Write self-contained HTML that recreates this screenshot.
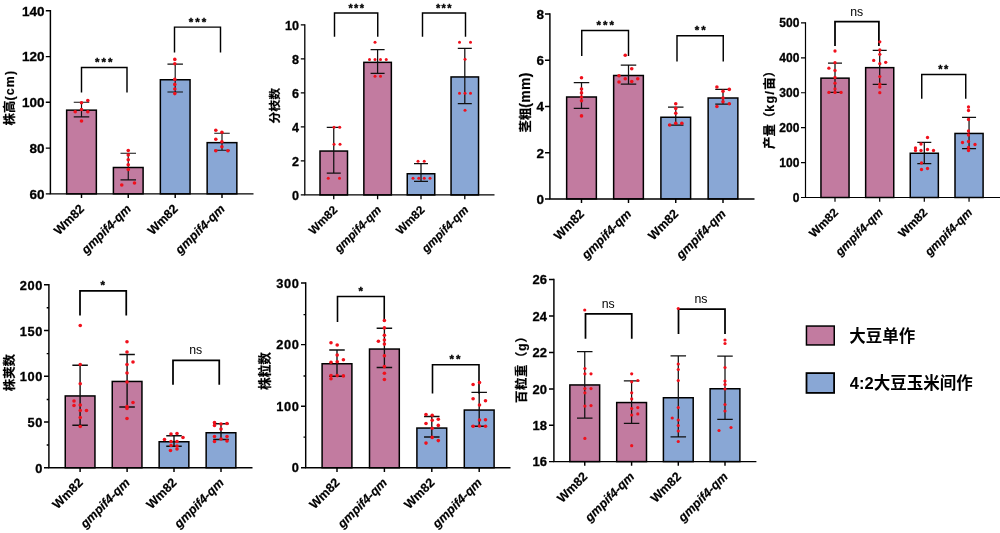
<!DOCTYPE html>
<html lang="zh"><head><meta charset="utf-8"><title>Figure</title>
<style>
html,body{margin:0;padding:0;background:#fff;}
body{width:1000px;height:533px;overflow:hidden;}
svg{display:block;}
text{font-family:"Liberation Sans", "Noto Sans CJK SC", sans-serif;fill:#000;}
.tk{font-size:12.5px;font-weight:bold;text-anchor:end;stroke:#000;stroke-width:0.3px;}
.xl{font-size:12.5px;font-weight:bold;text-anchor:end;stroke:#000;stroke-width:0.2px;}
.xi{font-size:12.5px;font-weight:bold;font-style:italic;text-anchor:end;stroke:#000;stroke-width:0.2px;}
.yt{font-size:12px;font-weight:bold;text-anchor:middle;stroke:#000;stroke-width:0.2px;}
.sg{font-size:12.3px;text-anchor:middle;}
.st{font-size:12.5px;font-weight:bold;text-anchor:middle;letter-spacing:1.5px;stroke:#000;stroke-width:0.35px;}
.lg{font-size:16.5px;font-weight:bold;}
.ax{stroke:#000;stroke-width:1.45;fill:none;}
.bk{stroke:#000;stroke-width:1.35;fill:none;}
.eb{stroke:#101010;stroke-width:1.35;fill:none;}
.bar{stroke:#000;stroke-width:1.5;}
.d{fill:#f0101c;}
</style></head><body>
<svg width="1000" height="533" viewBox="0 0 1000 533">
<rect x="0" y="0" width="1000" height="533" fill="#fff"/>
<g id="panel1">
<rect class="bar" x="66.65" y="110.15" width="29.7" height="83.7" fill="#c27ba0"/>
<rect class="bar" x="113.4" y="167.5" width="29.7" height="26.35" fill="#c27ba0"/>
<rect class="bar" x="160.35" y="79.75" width="29.7" height="114.1" fill="#89a7d5"/>
<rect class="bar" x="207.15" y="142.65" width="29.7" height="51.2" fill="#89a7d5"/>
<path class="eb" style="stroke-width:1.15" d="M81.5 102.2V116.8M73.75 102.2H89.25M73.75 116.8H89.25"/>
<path class="eb" style="stroke-width:1.15" d="M128.25 153.2V179.9M120.5 153.2H136M120.5 179.9H136"/>
<path class="eb" style="stroke-width:1.15" d="M175.2 64.2V92M167.45 64.2H182.95M167.45 92H182.95"/>
<path class="eb" style="stroke-width:1.15" d="M222 133.2V150.2M214.25 133.2H229.75M214.25 150.2H229.75"/>
<path class="ax" style="stroke-width:1.45" d="M50.4 10.08V193.85H253.5"/>
<path class="ax" style="stroke-width:1.45" d="M45.8 10.8H50.4M45.8 56.6H50.4M45.8 102.3H50.4M45.8 148.1H50.4M45.8 193.85H50.4M81.5 193.85V198.05M128.25 193.85V198.05M175.2 193.85V198.05M222 193.85V198.05"/>
<path class="bk" style="stroke-width:1.45" d="M81.5 92.5V67.4H127V92.5"/>
<text class="st" style="font-size:11.5px;letter-spacing:2px" x="104.8" y="66.22">***</text>
<path class="bk" style="stroke-width:1.45" d="M174.5 52.5V27.1H220.5V52.5"/>
<text class="st" style="font-size:11.5px;letter-spacing:2px" x="198.5" y="25.72">***</text>
<circle class="d" cx="87.8" cy="100.5" r="1.8"/>
<circle class="d" cx="81.5" cy="102.7" r="1.8"/>
<circle class="d" cx="81.5" cy="109.5" r="1.8"/>
<circle class="d" cx="75.2" cy="111.8" r="1.8"/>
<circle class="d" cx="87.8" cy="111.8" r="1.8"/>
<circle class="d" cx="81.5" cy="121" r="1.8"/>
<circle class="d" cx="128.25" cy="150.5" r="1.8"/>
<circle class="d" cx="128.25" cy="155" r="1.8"/>
<circle class="d" cx="128.25" cy="159.75" r="1.8"/>
<circle class="d" cx="128.25" cy="164.75" r="1.8"/>
<circle class="d" cx="128.25" cy="169.5" r="1.8"/>
<circle class="d" cx="121.75" cy="185" r="1.8"/>
<circle class="d" cx="134.5" cy="183" r="1.8"/>
<circle class="d" cx="174.8" cy="59.4" r="1.8"/>
<circle class="d" cx="174.8" cy="63.8" r="1.8"/>
<circle class="d" cx="174.8" cy="79.4" r="1.8"/>
<circle class="d" cx="174.8" cy="84.4" r="1.8"/>
<circle class="d" cx="174.8" cy="89" r="1.8"/>
<circle class="d" cx="174.8" cy="93.6" r="1.8"/>
<circle class="d" cx="215.8" cy="130.2" r="1.8"/>
<circle class="d" cx="221.9" cy="132.3" r="1.8"/>
<circle class="d" cx="215.8" cy="139.2" r="1.8"/>
<circle class="d" cx="221.9" cy="141.8" r="1.8"/>
<circle class="d" cx="221.9" cy="146.7" r="1.8"/>
<circle class="d" cx="215.8" cy="150.8" r="1.8"/>
<circle class="d" cx="227.9" cy="150.8" r="1.8"/>
<text class="tk" style="font-size:13.5px;letter-spacing:0px" x="44.5" y="15.63">140</text>
<text class="tk" style="font-size:13.5px;letter-spacing:0px" x="44.5" y="61.43">120</text>
<text class="tk" style="font-size:13.5px;letter-spacing:0px" x="44.5" y="107.13">100</text>
<text class="tk" style="font-size:13.5px;letter-spacing:0px" x="44.5" y="152.93">80</text>
<text class="tk" style="font-size:13.5px;letter-spacing:0px" x="44.5" y="198.68">60</text>
<text class="xl" style="font-size:12.5px" transform="translate(85 209.55) rotate(-45)">Wm82</text>
<text class="xi" style="font-size:12.5px" transform="translate(131.75 209.55) rotate(-45)">gmpif4-qm</text>
<text class="xl" style="font-size:12.5px" transform="translate(178.7 209.55) rotate(-45)">Wm82</text>
<text class="xi" style="font-size:12.5px" transform="translate(225.5 209.55) rotate(-45)">gmpif4-qm</text>
<text class="yt" style="font-size:12.4px;text-anchor:middle" transform="translate(14.46 97.5) rotate(-90)">株高<tspan style="letter-spacing:1.2px">(cm)</tspan></text>
</g>
<g id="panel2">
<rect class="bar" x="320" y="151.05" width="27.5" height="43.9" fill="#c27ba0"/>
<rect class="bar" x="363.85" y="62.35" width="27.5" height="132.6" fill="#c27ba0"/>
<rect class="bar" x="407.25" y="173.75" width="27.5" height="21.2" fill="#89a7d5"/>
<rect class="bar" x="451.05" y="76.95" width="27.5" height="118" fill="#89a7d5"/>
<path class="eb" style="stroke-width:1.25" d="M333.75 127.25V173M326.75 127.25H340.75M326.75 173H340.75"/>
<path class="eb" style="stroke-width:1.25" d="M377.6 49.5V73.25M370.6 49.5H384.6M370.6 73.25H384.6"/>
<path class="eb" style="stroke-width:1.25" d="M421 163.5V181.25M414 163.5H428M414 181.25H428"/>
<path class="eb" style="stroke-width:1.25" d="M464.8 48.25V103.5M457.8 48.25H471.8M457.8 103.5H471.8"/>
<path class="ax" style="stroke-width:1.3" d="M304.8 24.15V194.95H494.5"/>
<path class="ax" style="stroke-width:1.3" d="M300.8 24.8H304.8M300.8 58.9H304.8M300.8 92.9H304.8M300.8 126.9H304.8M300.8 160.9H304.8M300.8 194.95H304.8M333.75 194.95V199.15M377.6 194.95V199.15M421 194.95V199.15M464.8 194.95V199.15"/>
<path class="bk" style="stroke-width:1.45" d="M334.5 36.75V13H377.75V36.75"/>
<text class="st" style="font-size:11px;letter-spacing:1.4px" x="356.95" y="12.46">***</text>
<path class="bk" style="stroke-width:1.45" d="M422.5 36.75V13H465.5V36.75"/>
<text class="st" style="font-size:11px;letter-spacing:1.4px" x="444.45" y="12.46">***</text>
<circle class="d" cx="334" cy="127.25" r="1.5"/>
<circle class="d" cx="339.7" cy="127.25" r="1.5"/>
<circle class="d" cx="334" cy="144.25" r="1.5"/>
<circle class="d" cx="340" cy="144.25" r="1.5"/>
<circle class="d" cx="328.25" cy="178.25" r="1.5"/>
<circle class="d" cx="339.5" cy="178.25" r="1.5"/>
<circle class="d" cx="375" cy="42.25" r="1.5"/>
<circle class="d" cx="369.5" cy="59.5" r="1.5"/>
<circle class="d" cx="375" cy="59.5" r="1.5"/>
<circle class="d" cx="380.5" cy="59.5" r="1.5"/>
<circle class="d" cx="386.25" cy="59.5" r="1.5"/>
<circle class="d" cx="375" cy="76.25" r="1.5"/>
<circle class="d" cx="380.5" cy="76.25" r="1.5"/>
<circle class="d" cx="418" cy="161.25" r="1.5"/>
<circle class="d" cx="424.25" cy="161.25" r="1.5"/>
<circle class="d" cx="413" cy="178.25" r="1.5"/>
<circle class="d" cx="418.75" cy="178.25" r="1.5"/>
<circle class="d" cx="424.25" cy="178.25" r="1.5"/>
<circle class="d" cx="430" cy="178.25" r="1.5"/>
<circle class="d" cx="459.5" cy="42.25" r="1.5"/>
<circle class="d" cx="470.5" cy="42.25" r="1.5"/>
<circle class="d" cx="465" cy="59.25" r="1.5"/>
<circle class="d" cx="459.5" cy="93.25" r="1.5"/>
<circle class="d" cx="465" cy="93.25" r="1.5"/>
<circle class="d" cx="470.5" cy="93.25" r="1.5"/>
<circle class="d" cx="465" cy="110.25" r="1.5"/>
<text class="tk" style="font-size:12.6px;letter-spacing:0px" x="299" y="29.91">10</text>
<text class="tk" style="font-size:12.6px;letter-spacing:0px" x="299" y="64.01">8</text>
<text class="tk" style="font-size:12.6px;letter-spacing:0px" x="299" y="98.01">6</text>
<text class="tk" style="font-size:12.6px;letter-spacing:0px" x="299" y="132.01">4</text>
<text class="tk" style="font-size:12.6px;letter-spacing:0px" x="299" y="166.01">2</text>
<text class="tk" style="font-size:12.6px;letter-spacing:0px" x="299" y="200.06">0</text>
<text class="xl" style="font-size:11.8px" transform="translate(338.05 210.65) rotate(-45)">Wm82</text>
<text class="xi" style="font-size:11.8px" transform="translate(381.9 210.65) rotate(-45)">gmpif4-qm</text>
<text class="xl" style="font-size:11.8px" transform="translate(425.3 210.65) rotate(-45)">Wm82</text>
<text class="xi" style="font-size:11.8px" transform="translate(469.1 210.65) rotate(-45)">gmpif4-qm</text>
<text class="yt" style="font-size:11.8px;text-anchor:middle" transform="translate(279.15 105.7) rotate(-90)">分枝数</text>
</g>
<g id="panel3">
<rect class="bar" x="566.65" y="97" width="29.7" height="101.9" fill="#c27ba0"/>
<rect class="bar" x="613.65" y="75.5" width="29.7" height="123.4" fill="#c27ba0"/>
<rect class="bar" x="660.9" y="117.25" width="29.7" height="81.65" fill="#89a7d5"/>
<rect class="bar" x="708.15" y="98" width="29.7" height="100.9" fill="#89a7d5"/>
<path class="eb" style="stroke-width:1.25" d="M581.5 82.5V108.25M573.75 82.5H589.25M573.75 108.25H589.25"/>
<path class="eb" style="stroke-width:1.25" d="M628.5 65V84M620.75 65H636.25M620.75 84H636.25"/>
<path class="eb" style="stroke-width:1.25" d="M675.75 107V125M668 107H683.5M668 125H683.5"/>
<path class="eb" style="stroke-width:1.25" d="M723 89.25V104M715.25 89.25H730.75M715.25 104H730.75"/>
<path class="ax" style="stroke-width:1.45" d="M549.9 13.28V198.9H754.5"/>
<path class="ax" style="stroke-width:1.45" d="M545 14H549.9M545 60.3H549.9M545 106.5H549.9M545 152.7H549.9M545 198.9H549.9M581.5 198.9V203.1M628.5 198.9V203.1M675.75 198.9V203.1M723 198.9V203.1"/>
<path class="bk" style="stroke-width:1.45" d="M581.75 56V30.5H628.5V56"/>
<text class="st" style="font-size:11.5px;letter-spacing:2px" x="606.25" y="29.47">***</text>
<path class="bk" style="stroke-width:1.45" d="M677 61.6V35.75H723.25V61.6"/>
<text class="st" style="font-size:11.5px;letter-spacing:2px" x="701.25" y="34.47">**</text>
<circle class="d" cx="581.5" cy="77.8" r="1.8"/>
<circle class="d" cx="581.5" cy="89" r="1.8"/>
<circle class="d" cx="581.5" cy="92.9" r="1.8"/>
<circle class="d" cx="581.5" cy="97" r="1.8"/>
<circle class="d" cx="581.5" cy="100.8" r="1.8"/>
<circle class="d" cx="581.5" cy="115.9" r="1.8"/>
<circle class="d" cx="625.25" cy="55.25" r="1.8"/>
<circle class="d" cx="631.75" cy="68.75" r="1.8"/>
<circle class="d" cx="619" cy="75.75" r="1.8"/>
<circle class="d" cx="625.25" cy="78.75" r="1.8"/>
<circle class="d" cx="637.75" cy="78.75" r="1.8"/>
<circle class="d" cx="619" cy="82" r="1.8"/>
<circle class="d" cx="631.75" cy="81.5" r="1.8"/>
<circle class="d" cx="675.75" cy="103.7" r="1.8"/>
<circle class="d" cx="675.75" cy="108.4" r="1.8"/>
<circle class="d" cx="675.75" cy="113.2" r="1.8"/>
<circle class="d" cx="669.7" cy="125" r="1.8"/>
<circle class="d" cx="675.75" cy="123.3" r="1.8"/>
<circle class="d" cx="681.85" cy="123.3" r="1.8"/>
<circle class="d" cx="716.9" cy="87" r="1.8"/>
<circle class="d" cx="723" cy="91.3" r="1.8"/>
<circle class="d" cx="729.3" cy="89.4" r="1.8"/>
<circle class="d" cx="723" cy="98" r="1.8"/>
<circle class="d" cx="723" cy="101.8" r="1.8"/>
<circle class="d" cx="729.3" cy="103.7" r="1.8"/>
<circle class="d" cx="716.9" cy="106.5" r="1.8"/>
<text class="tk" style="font-size:13.5px;letter-spacing:0px" x="544" y="18.83">8</text>
<text class="tk" style="font-size:13.5px;letter-spacing:0px" x="544" y="65.13">6</text>
<text class="tk" style="font-size:13.5px;letter-spacing:0px" x="544" y="111.33">4</text>
<text class="tk" style="font-size:13.5px;letter-spacing:0px" x="544" y="157.53">2</text>
<text class="tk" style="font-size:13.5px;letter-spacing:0px" x="544" y="203.73">0</text>
<text class="xl" style="font-size:12.5px" transform="translate(585 214.6) rotate(-45)">Wm82</text>
<text class="xi" style="font-size:12.5px" transform="translate(632 214.6) rotate(-45)">gmpif4-qm</text>
<text class="xl" style="font-size:12.5px" transform="translate(679.25 214.6) rotate(-45)">Wm82</text>
<text class="xi" style="font-size:12.5px" transform="translate(726.5 214.6) rotate(-45)">gmpif4-qm</text>
<text class="yt" style="font-size:12.4px;text-anchor:middle" transform="translate(529.66 102.4) rotate(-90)">茎粗<tspan style="font-size:14px;letter-spacing:0.3px">(mm)</tspan></text>
</g>
<g id="panel4">
<rect class="bar" x="820.95" y="78.15" width="28.1" height="119.35" fill="#c27ba0"/>
<rect class="bar" x="865.65" y="67.65" width="28.1" height="129.85" fill="#c27ba0"/>
<rect class="bar" x="910.25" y="153.25" width="28.1" height="44.25" fill="#89a7d5"/>
<rect class="bar" x="955" y="133.45" width="28.1" height="64.05" fill="#89a7d5"/>
<path class="eb" style="stroke-width:1.25" d="M835 63V92.4M828 63H842M828 92.4H842"/>
<path class="eb" style="stroke-width:1.25" d="M879.7 50.3V84.3M872.7 50.3H886.7M872.7 84.3H886.7"/>
<path class="eb" style="stroke-width:1.25" d="M924.3 142.25V163.5M917.3 142.25H931.3M917.3 163.5H931.3"/>
<path class="eb" style="stroke-width:1.25" d="M969.05 117.4V148.5M962.05 117.4H976.05M962.05 148.5H976.05"/>
<path class="ax" style="stroke-width:1.2" d="M805.5 22.3V197.5H1000"/>
<path class="ax" style="stroke-width:1.2" d="M801 22.9H805.5M801 57.8H805.5M801 92.75H805.5M801 127.7H805.5M801 162.6H805.5M801 197.5H805.5M835 197.5V201.7M879.7 197.5V201.7M924.3 197.5V201.7M969.05 197.5V201.7"/>
<path class="bk" style="stroke-width:1.75" d="M835 46V21.5H878.9V46"/>
<text class="sg" x="856.75" y="15.6">ns</text>
<path class="bk" style="stroke-width:1.45" d="M921.75 98.75V74.5H965.75V98.75"/>
<text class="st" style="font-size:11px;letter-spacing:1.4px" x="943.95" y="73.46">**</text>
<circle class="d" cx="835" cy="51" r="1.65"/>
<circle class="d" cx="835" cy="62.7" r="1.65"/>
<circle class="d" cx="828.9" cy="68.2" r="1.65"/>
<circle class="d" cx="835" cy="70.5" r="1.65"/>
<circle class="d" cx="835" cy="77.5" r="1.65"/>
<circle class="d" cx="835" cy="83.2" r="1.65"/>
<circle class="d" cx="835" cy="88.9" r="1.65"/>
<circle class="d" cx="828.9" cy="92.4" r="1.65"/>
<circle class="d" cx="835" cy="92.4" r="1.65"/>
<circle class="d" cx="841.1" cy="92.4" r="1.65"/>
<circle class="d" cx="879.8" cy="41.8" r="1.65"/>
<circle class="d" cx="879.8" cy="50" r="1.65"/>
<circle class="d" cx="879.8" cy="54.3" r="1.65"/>
<circle class="d" cx="873.7" cy="60.4" r="1.65"/>
<circle class="d" cx="885.7" cy="62.3" r="1.65"/>
<circle class="d" cx="879.8" cy="63.7" r="1.65"/>
<circle class="d" cx="879.8" cy="76.6" r="1.65"/>
<circle class="d" cx="879.8" cy="84.2" r="1.65"/>
<circle class="d" cx="879.8" cy="87" r="1.65"/>
<circle class="d" cx="879.8" cy="92.7" r="1.65"/>
<circle class="d" cx="927.5" cy="137.5" r="1.65"/>
<circle class="d" cx="921" cy="144" r="1.65"/>
<circle class="d" cx="915.5" cy="148" r="1.65"/>
<circle class="d" cx="915.5" cy="150.5" r="1.65"/>
<circle class="d" cx="921" cy="150.5" r="1.65"/>
<circle class="d" cx="927.5" cy="149.5" r="1.65"/>
<circle class="d" cx="933.5" cy="150.5" r="1.65"/>
<circle class="d" cx="921.5" cy="163" r="1.65"/>
<circle class="d" cx="921.5" cy="169.5" r="1.65"/>
<circle class="d" cx="927.5" cy="168.5" r="1.65"/>
<circle class="d" cx="968.5" cy="107" r="1.65"/>
<circle class="d" cx="968.5" cy="110.5" r="1.65"/>
<circle class="d" cx="968.5" cy="119.5" r="1.65"/>
<circle class="d" cx="968.5" cy="131" r="1.65"/>
<circle class="d" cx="968.5" cy="135" r="1.65"/>
<circle class="d" cx="962.5" cy="142.5" r="1.65"/>
<circle class="d" cx="968.5" cy="141.5" r="1.65"/>
<circle class="d" cx="975" cy="144.5" r="1.65"/>
<circle class="d" cx="968.5" cy="147.5" r="1.65"/>
<circle class="d" cx="968.5" cy="150.5" r="1.65"/>
<text class="tk" style="font-size:12px;letter-spacing:0px" x="799.4" y="27.2">500</text>
<text class="tk" style="font-size:12px;letter-spacing:0px" x="799.4" y="62.1">400</text>
<text class="tk" style="font-size:12px;letter-spacing:0px" x="799.4" y="97.05">300</text>
<text class="tk" style="font-size:12px;letter-spacing:0px" x="799.4" y="132">200</text>
<text class="tk" style="font-size:12px;letter-spacing:0px" x="799.4" y="166.9">100</text>
<text class="tk" style="font-size:12px;letter-spacing:0px" x="799.4" y="201.8">0</text>
<text class="xl" style="font-size:12px" transform="translate(839 213.2) rotate(-45)">Wm82</text>
<text class="xi" style="font-size:12px" transform="translate(883.7 213.2) rotate(-45)">gmpif4-qm</text>
<text class="xl" style="font-size:12px" transform="translate(928.3 213.2) rotate(-45)">Wm82</text>
<text class="xi" style="font-size:12px" transform="translate(973.05 213.2) rotate(-45)">gmpif4-qm</text>
<text class="yt" style="font-size:12.4px;text-anchor:start" transform="translate(774.06 149) rotate(-90)">产量（<tspan style="letter-spacing:1.4px">kg/</tspan>亩）</text>
</g>
<g id="panel5">
<rect class="bar" x="65.25" y="395.95" width="29.7" height="71.8" fill="#c27ba0"/>
<rect class="bar" x="112.25" y="381.45" width="29.7" height="86.3" fill="#c27ba0"/>
<rect class="bar" x="159.15" y="441.75" width="29.7" height="26" fill="#89a7d5"/>
<rect class="bar" x="206.15" y="432.75" width="29.7" height="35" fill="#89a7d5"/>
<path class="eb" style="stroke-width:1.4" d="M80.1 365.25V425.25M72.35 365.25H87.85M72.35 425.25H87.85"/>
<path class="eb" style="stroke-width:1.4" d="M127.1 354.5V407M119.35 354.5H134.85M119.35 407H134.85"/>
<path class="eb" style="stroke-width:1.4" d="M174 435.75V446.25M166.25 435.75H181.75M166.25 446.25H181.75"/>
<path class="eb" style="stroke-width:1.4" d="M221 423.75V439.5M213.25 423.75H228.75M213.25 439.5H228.75"/>
<path class="ax" style="stroke-width:1.45" d="M48.9 284.07V467.75H252.5"/>
<path class="ax" style="stroke-width:1.45" d="M44 284.8H48.9M44 330.55H48.9M44 376.3H48.9M44 422.05H48.9M44 467.75H48.9M46.7 307.8H48.9M46.7 353.6H48.9M46.7 399.5H48.9M46.7 445H48.9M80.1 467.75V471.95M127.1 467.75V471.95M174 467.75V471.95M221 467.75V471.95"/>
<path class="bk" style="stroke-width:1.75" d="M80 315.6V290.75H126.25V315.6"/>
<text class="st" style="font-size:11.5px;letter-spacing:2px" x="103.75" y="289.02">*</text>
<path class="bk" style="stroke-width:1.75" d="M173 384.75V360.25H219.25V384.75"/>
<text class="sg" x="195.75" y="353.85">ns</text>
<circle class="d" cx="80.25" cy="325.5" r="1.8"/>
<circle class="d" cx="80.25" cy="364.5" r="1.8"/>
<circle class="d" cx="80.25" cy="383.75" r="1.8"/>
<circle class="d" cx="74" cy="401" r="1.8"/>
<circle class="d" cx="74" cy="405.5" r="1.8"/>
<circle class="d" cx="80.25" cy="405" r="1.8"/>
<circle class="d" cx="80.25" cy="410.5" r="1.8"/>
<circle class="d" cx="86.5" cy="410.5" r="1.8"/>
<circle class="d" cx="80.25" cy="417.5" r="1.8"/>
<circle class="d" cx="80.25" cy="426.5" r="1.8"/>
<circle class="d" cx="127" cy="341.75" r="1.8"/>
<circle class="d" cx="127" cy="352" r="1.8"/>
<circle class="d" cx="133" cy="362" r="1.8"/>
<circle class="d" cx="127" cy="364.5" r="1.8"/>
<circle class="d" cx="127" cy="373" r="1.8"/>
<circle class="d" cx="127" cy="382" r="1.8"/>
<circle class="d" cx="133" cy="402.5" r="1.8"/>
<circle class="d" cx="127" cy="406.5" r="1.8"/>
<circle class="d" cx="127" cy="408.5" r="1.8"/>
<circle class="d" cx="127" cy="418.5" r="1.8"/>
<circle class="d" cx="171" cy="434" r="1.8"/>
<circle class="d" cx="177" cy="433.5" r="1.8"/>
<circle class="d" cx="164.5" cy="439.5" r="1.8"/>
<circle class="d" cx="183" cy="437.5" r="1.8"/>
<circle class="d" cx="171" cy="441.5" r="1.8"/>
<circle class="d" cx="177" cy="441.5" r="1.8"/>
<circle class="d" cx="171" cy="445.5" r="1.8"/>
<circle class="d" cx="177" cy="446" r="1.8"/>
<circle class="d" cx="170.5" cy="450.5" r="1.8"/>
<circle class="d" cx="177" cy="449" r="1.8"/>
<circle class="d" cx="214.5" cy="422.5" r="1.8"/>
<circle class="d" cx="214.5" cy="425.5" r="1.8"/>
<circle class="d" cx="221" cy="424" r="1.8"/>
<circle class="d" cx="227" cy="423.5" r="1.8"/>
<circle class="d" cx="221" cy="429" r="1.8"/>
<circle class="d" cx="214.5" cy="436.5" r="1.8"/>
<circle class="d" cx="227" cy="436.5" r="1.8"/>
<circle class="d" cx="214.5" cy="441.5" r="1.8"/>
<circle class="d" cx="221" cy="439" r="1.8"/>
<circle class="d" cx="227" cy="441" r="1.8"/>
<text class="tk" style="font-size:12.8px;letter-spacing:0.7px" x="43.1" y="289.98">200</text>
<text class="tk" style="font-size:12.8px;letter-spacing:0.7px" x="43.1" y="335.73">150</text>
<text class="tk" style="font-size:12.8px;letter-spacing:0.7px" x="43.1" y="381.48">100</text>
<text class="tk" style="font-size:12.8px;letter-spacing:0.7px" x="43.1" y="427.23">50</text>
<text class="tk" style="font-size:12.8px;letter-spacing:0.7px" x="43.1" y="472.93">0</text>
<text class="xl" style="font-size:12.5px" transform="translate(83.6 483.45) rotate(-45)">Wm82</text>
<text class="xi" style="font-size:12.5px" transform="translate(130.6 483.45) rotate(-45)">gmpif4-qm</text>
<text class="xl" style="font-size:12.5px" transform="translate(177.5 483.45) rotate(-45)">Wm82</text>
<text class="xi" style="font-size:12.5px" transform="translate(224.5 483.45) rotate(-45)">gmpif4-qm</text>
<text class="yt" style="font-size:12.4px;text-anchor:middle" transform="translate(13.76 372.6) rotate(-90)">株荚数</text>
</g>
<g id="panel6">
<rect class="bar" x="322.1" y="363.75" width="29.8" height="104" fill="#c27ba0"/>
<rect class="bar" x="369.5" y="349.05" width="29.8" height="118.7" fill="#c27ba0"/>
<rect class="bar" x="416.9" y="428.05" width="29.8" height="39.7" fill="#89a7d5"/>
<rect class="bar" x="464.3" y="410.05" width="29.8" height="57.7" fill="#89a7d5"/>
<path class="eb" style="stroke-width:1.35" d="M337 350V376.25M329.25 350H344.75M329.25 376.25H344.75"/>
<path class="eb" style="stroke-width:1.35" d="M384.4 328.25V367.5M376.65 328.25H392.15M376.65 367.5H392.15"/>
<path class="eb" style="stroke-width:1.35" d="M431.8 416.5V437M424.05 416.5H439.55M424.05 437H439.55"/>
<path class="eb" style="stroke-width:1.35" d="M479.2 392.3V426.25M471.45 392.3H486.95M471.45 426.25H486.95"/>
<path class="ax" style="stroke-width:1.45" d="M305.7 282.27V467.75H510.5"/>
<path class="ax" style="stroke-width:1.45" d="M301 283H305.7M301 344.6H305.7M301 406.2H305.7M301 467.75H305.7M303.5 314.6H305.7M303.5 375.9H305.7M303.5 437.1H305.7M337 467.75V471.95M384.4 467.75V471.95M431.8 467.75V471.95M479.2 467.75V471.95"/>
<path class="bk" style="stroke-width:1.6" d="M337.5 322V296.5H384.25V322"/>
<text class="st" style="font-size:11.5px;letter-spacing:2px" x="361.75" y="295.22">*</text>
<path class="bk" style="stroke-width:1.6" d="M432.5 393.5V364.7H479V393.5"/>
<text class="st" style="font-size:11.5px;letter-spacing:2px" x="456" y="363.22">**</text>
<circle class="d" cx="331" cy="342.7" r="1.8"/>
<circle class="d" cx="337.2" cy="345" r="1.8"/>
<circle class="d" cx="337.2" cy="355.1" r="1.8"/>
<circle class="d" cx="343.4" cy="359.8" r="1.8"/>
<circle class="d" cx="331" cy="362.2" r="1.8"/>
<circle class="d" cx="337.2" cy="361.8" r="1.8"/>
<circle class="d" cx="331" cy="375.6" r="1.8"/>
<circle class="d" cx="337.2" cy="375.6" r="1.8"/>
<circle class="d" cx="343.4" cy="375.9" r="1.8"/>
<circle class="d" cx="331" cy="378.8" r="1.8"/>
<circle class="d" cx="384.4" cy="320.5" r="1.8"/>
<circle class="d" cx="384.4" cy="327.9" r="1.8"/>
<circle class="d" cx="384.4" cy="335.2" r="1.8"/>
<circle class="d" cx="378.4" cy="341.2" r="1.8"/>
<circle class="d" cx="384.4" cy="340" r="1.8"/>
<circle class="d" cx="384.4" cy="344.1" r="1.8"/>
<circle class="d" cx="384.4" cy="355.7" r="1.8"/>
<circle class="d" cx="384.4" cy="366.6" r="1.8"/>
<circle class="d" cx="384.4" cy="373.2" r="1.8"/>
<circle class="d" cx="384.4" cy="379.5" r="1.8"/>
<circle class="d" cx="426" cy="414.5" r="1.8"/>
<circle class="d" cx="432.2" cy="415.3" r="1.8"/>
<circle class="d" cx="432.2" cy="420.2" r="1.8"/>
<circle class="d" cx="438.3" cy="419.3" r="1.8"/>
<circle class="d" cx="426" cy="423.5" r="1.8"/>
<circle class="d" cx="438.3" cy="425.4" r="1.8"/>
<circle class="d" cx="432.2" cy="428.2" r="1.8"/>
<circle class="d" cx="432.2" cy="437.4" r="1.8"/>
<circle class="d" cx="438.3" cy="440.6" r="1.8"/>
<circle class="d" cx="426" cy="443.1" r="1.8"/>
<circle class="d" cx="473.1" cy="384.5" r="1.8"/>
<circle class="d" cx="479.5" cy="382.6" r="1.8"/>
<circle class="d" cx="473.1" cy="398.8" r="1.8"/>
<circle class="d" cx="485.5" cy="400.7" r="1.8"/>
<circle class="d" cx="479.5" cy="405" r="1.8"/>
<circle class="d" cx="479.5" cy="420" r="1.8"/>
<circle class="d" cx="485.5" cy="419.7" r="1.8"/>
<circle class="d" cx="473.1" cy="426.3" r="1.8"/>
<circle class="d" cx="479.5" cy="426" r="1.8"/>
<circle class="d" cx="485.5" cy="426.3" r="1.8"/>
<text class="tk" style="font-size:12.8px;letter-spacing:0.7px" x="299.7" y="287.58">300</text>
<text class="tk" style="font-size:12.8px;letter-spacing:0.7px" x="299.7" y="349.18">200</text>
<text class="tk" style="font-size:12.8px;letter-spacing:0.7px" x="299.7" y="410.78">100</text>
<text class="tk" style="font-size:12.8px;letter-spacing:0.7px" x="299.7" y="472.33">0</text>
<text class="xl" style="font-size:12.5px" transform="translate(340.5 483.45) rotate(-45)">Wm82</text>
<text class="xi" style="font-size:12.5px" transform="translate(387.9 483.45) rotate(-45)">gmpif4-qm</text>
<text class="xl" style="font-size:12.5px" transform="translate(435.3 483.45) rotate(-45)">Wm82</text>
<text class="xi" style="font-size:12.5px" transform="translate(482.7 483.45) rotate(-45)">gmpif4-qm</text>
<text class="yt" style="font-size:12.6px;text-anchor:middle" transform="translate(269.44 371) rotate(-90)">株粒数</text>
</g>
<g id="panel7">
<rect class="bar" x="569.85" y="384.95" width="29.8" height="76.65" fill="#c27ba0"/>
<rect class="bar" x="616.7" y="402.55" width="29.8" height="59.05" fill="#c27ba0"/>
<rect class="bar" x="663.4" y="397.75" width="29.8" height="63.85" fill="#89a7d5"/>
<rect class="bar" x="710.1" y="388.75" width="29.8" height="72.85" fill="#89a7d5"/>
<path class="eb" style="stroke-width:1.25" d="M584.75 351.5V418M577 351.5H592.5M577 418H592.5"/>
<path class="eb" style="stroke-width:1.25" d="M631.6 380.75V423.25M623.85 380.75H639.35M623.85 423.25H639.35"/>
<path class="eb" style="stroke-width:1.25" d="M678.3 355.75V436.75M670.55 355.75H686.05M670.55 436.75H686.05"/>
<path class="eb" style="stroke-width:1.25" d="M725 356V419.25M717.25 356H732.75M717.25 419.25H732.75"/>
<path class="ax" style="stroke-width:1.45" d="M553.9 278.77V461.6H756.4"/>
<path class="ax" style="stroke-width:1.45" d="M549 279.5H553.9M549 316H553.9M549 352.5H553.9M549 389H553.9M549 425.25H553.9M549 461.6H553.9M584.75 461.6V465.8M631.6 461.6V465.8M678.3 461.6V465.8M725 461.6V465.8"/>
<path class="bk" style="stroke-width:1.75" d="M585.5 338.75V313.75H631.75V338.75"/>
<text class="sg" x="608.25" y="307.6">ns</text>
<path class="bk" style="stroke-width:1.75" d="M678.5 334V309H725V334"/>
<text class="sg" x="701" y="303.1">ns</text>
<circle class="d" cx="584.75" cy="310" r="1.6"/>
<circle class="d" cx="584.9" cy="368.5" r="1.6"/>
<circle class="d" cx="584.9" cy="373.8" r="1.6"/>
<circle class="d" cx="591" cy="373.8" r="1.6"/>
<circle class="d" cx="584.9" cy="388.6" r="1.6"/>
<circle class="d" cx="591" cy="388.6" r="1.6"/>
<circle class="d" cx="584.9" cy="392.8" r="1.6"/>
<circle class="d" cx="584.9" cy="406.1" r="1.6"/>
<circle class="d" cx="591" cy="405.6" r="1.6"/>
<circle class="d" cx="584.9" cy="438.4" r="1.6"/>
<circle class="d" cx="631.7" cy="373.8" r="1.6"/>
<circle class="d" cx="637.8" cy="380.5" r="1.6"/>
<circle class="d" cx="631.7" cy="381.8" r="1.6"/>
<circle class="d" cx="631.7" cy="392.8" r="1.6"/>
<circle class="d" cx="631.7" cy="398.9" r="1.6"/>
<circle class="d" cx="631.7" cy="408.6" r="1.6"/>
<circle class="d" cx="637.8" cy="407.6" r="1.6"/>
<circle class="d" cx="631.7" cy="415" r="1.6"/>
<circle class="d" cx="637.8" cy="413.9" r="1.6"/>
<circle class="d" cx="631.7" cy="445.7" r="1.6"/>
<circle class="d" cx="678.25" cy="308.5" r="1.6"/>
<circle class="d" cx="678.25" cy="364" r="1.6"/>
<circle class="d" cx="678.25" cy="369.5" r="1.6"/>
<circle class="d" cx="678.25" cy="380.5" r="1.6"/>
<circle class="d" cx="678.25" cy="407.5" r="1.6"/>
<circle class="d" cx="672.25" cy="418" r="1.6"/>
<circle class="d" cx="678.25" cy="420" r="1.6"/>
<circle class="d" cx="678.25" cy="425.5" r="1.6"/>
<circle class="d" cx="678.25" cy="431" r="1.6"/>
<circle class="d" cx="678.25" cy="441.5" r="1.6"/>
<circle class="d" cx="725" cy="340" r="1.6"/>
<circle class="d" cx="725" cy="343.5" r="1.6"/>
<circle class="d" cx="725" cy="367.5" r="1.6"/>
<circle class="d" cx="725" cy="381" r="1.6"/>
<circle class="d" cx="725" cy="384.5" r="1.6"/>
<circle class="d" cx="725" cy="389" r="1.6"/>
<circle class="d" cx="725" cy="404.5" r="1.6"/>
<circle class="d" cx="725" cy="411" r="1.6"/>
<circle class="d" cx="719" cy="430.5" r="1.6"/>
<circle class="d" cx="731" cy="427.5" r="1.6"/>
<text class="tk" style="font-size:13px;letter-spacing:0px" x="547" y="284.15">26</text>
<text class="tk" style="font-size:13px;letter-spacing:0px" x="547" y="320.65">24</text>
<text class="tk" style="font-size:13px;letter-spacing:0px" x="547" y="357.15">22</text>
<text class="tk" style="font-size:13px;letter-spacing:0px" x="547" y="393.65">20</text>
<text class="tk" style="font-size:13px;letter-spacing:0px" x="547" y="429.9">18</text>
<text class="tk" style="font-size:13px;letter-spacing:0px" x="547" y="466.25">16</text>
<text class="xl" style="font-size:12.5px" transform="translate(588.25 477.3) rotate(-45)">Wm82</text>
<text class="xi" style="font-size:12.5px" transform="translate(635.1 477.3) rotate(-45)">gmpif4-qm</text>
<text class="xl" style="font-size:12.5px" transform="translate(681.8 477.3) rotate(-45)">Wm82</text>
<text class="xi" style="font-size:12.5px" transform="translate(728.5 477.3) rotate(-45)">gmpif4-qm</text>
<text class="yt" style="font-size:12.4px;text-anchor:start" transform="translate(526.36 403) rotate(-90)"><tspan style="letter-spacing:0.6px">百粒重（g）</tspan></text>
</g>
<g id="legend">
<rect x="806.45" y="326.05" width="27.8" height="18.9" fill="#c27ba0" stroke="#000" stroke-width="1.5"/>
<rect x="806.5" y="373.1" width="27.6" height="19.8" fill="#89a7d5" stroke="#000" stroke-width="1.8"/>
<text class="lg" x="849.3" y="342.2">大豆单作</text>
<text class="lg" x="849.8" y="389.2">4:2大豆玉米间作</text>
</g>
</svg>
</body></html>
